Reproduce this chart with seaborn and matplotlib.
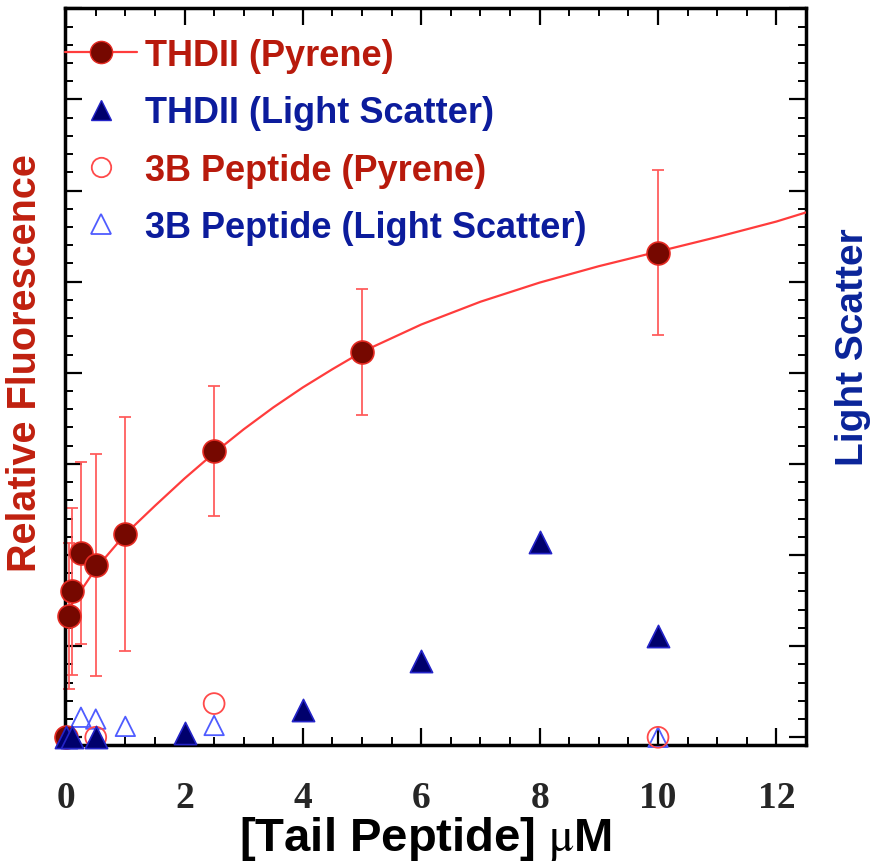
import matplotlib
matplotlib.use("Agg")
import matplotlib.pyplot as plt
from matplotlib.lines import Line2D
from matplotlib.ticker import MultipleLocator
import seaborn as sns

sns.set_theme(style="white")
plt.rcParams['font.family'] = ['Liberation Sans', 'DejaVu Sans']
plt.rcParams['mathtext.fontset'] = 'stix'

# ---- data ----
thd_pyr_x = [0, 0.05, 0.1, 0.25, 0.5, 1, 2.5, 5, 10]
thd_pyr_y = [0.0, 1.33, 1.60, 2.02, 1.89, 2.23, 3.14, 4.23, 5.32]
thd_pyr_err = [0.0, 0.80, 0.92, 1.00, 1.22, 1.28, 0.71, 0.69, 0.91]

fit_x = [0, 0.25, 0.5, 1, 1.5, 2, 2.5, 3, 3.5, 4, 4.5, 5, 6, 7, 8, 9, 10, 11, 12, 12.5]
fit_y = [1.37, 1.61, 1.85, 2.23, 2.54, 2.84, 3.12, 3.38, 3.62, 3.84, 4.04, 4.23,
         4.53, 4.78, 4.99, 5.17, 5.33, 5.49, 5.66, 5.76]

thd_ls_x = [0, 0.1, 0.5, 2, 4, 6, 8, 10]
thd_ls_y = [0.0, 0.0, 0.0, 0.05, 0.30, 0.84, 2.14, 1.11]

b3_pyr_x = [0, 0.5, 2.5, 10]
b3_pyr_y = [0.0, 0.0, 0.37, 0.0]

b3_ls_x = [0, 0.25, 0.5, 1, 2.5, 10]
b3_ls_y = [0.0, 0.22, 0.20, 0.12, 0.13, 0.0]

labels = ["THDII (Pyrene)", "THDII (Light Scatter)",
          "3B Peptide (Pyrene)", "3B Peptide (Light Scatter)"]
xticks = [0, 2, 4, 6, 8, 10, 12]

# ---- colours ----
dark_red = "#760800"
red_edge = "#e42a22"
curve_red = "#ff3c3c"
err_red = "#ff5a5a"
navy = "#00006c"
navy_edge = "#2424c8"
open_blue = "#4f5cff"
open_red = "#ff4a4a"
txt_red = "#b81a0c"
txt_blue = "#0c1c9c"

fig = plt.figure(figsize=(8.72, 8.62), dpi=100)
ax = fig.add_axes([0.0745, 0.134, 0.8498, 0.8552])

ax.errorbar(thd_pyr_x, thd_pyr_y, yerr=thd_pyr_err, fmt='none', ecolor=err_red,
            elinewidth=1.4, capsize=4, capthick=1.4, alpha=0.9, zorder=2, clip_on=False)
sns.lineplot(x=fit_x, y=fit_y, ax=ax, color=curve_red, linewidth=1.6, zorder=3)

sns.scatterplot(x=b3_ls_x, y=b3_ls_y, ax=ax, marker='^', s=14**2, facecolor='none',
                edgecolor=open_blue, linewidth=1.3, zorder=4, clip_on=False)
sns.scatterplot(x=b3_pyr_x, y=b3_pyr_y, ax=ax, marker='o', s=15**2, facecolor='none',
                edgecolor=open_red, linewidth=1.3, zorder=4, clip_on=False)
sns.scatterplot(x=thd_pyr_x, y=thd_pyr_y, ax=ax, marker='o', s=16.5**2, facecolor=dark_red,
                edgecolor=red_edge, linewidth=1.2, zorder=5, clip_on=False)
sns.scatterplot(x=thd_ls_x, y=thd_ls_y, ax=ax, marker='^', s=16**2, facecolor=navy,
                edgecolor=navy_edge, linewidth=1.2, zorder=6, clip_on=False)

ax.set_xlim(-0.02, 12.5)
ax.set_ylim(-0.09, 8.0)
ax.set_xticks(xticks)
ax.xaxis.set_minor_locator(MultipleLocator(0.5))
ax.yaxis.set_major_locator(MultipleLocator(1))
ax.yaxis.set_minor_locator(MultipleLocator(0.2))
ax.set_yticklabels([])
ax.tick_params(axis='both', which='both', direction='in', top=True, right=True,
               left=True, bottom=True, color='black')
ax.tick_params(which='major', length=12, width=1.6)
ax.tick_params(which='minor', length=6, width=1.4)
ax.tick_params(axis='x', which='major', pad=25, labelsize=27)
for lab in ax.get_xticklabels():
    lab.set_fontfamily('Liberation Serif')
    lab.set_fontweight('bold')
for sp in ax.spines.values():
    sp.set_color('black')
    sp.set_linewidth(2.5)
    sp.set_visible(True)

fig.text(0.488, 0.027, "[Tail Peptide] $\\mathrm{\\mu}$M", ha='center', va='center',
         fontsize=34, fontweight='bold', color='black')
fig.text(0.029, 0.579, "Relative Fluorescence", rotation=90, ha='center', va='center',
         fontsize=28.5, fontweight='bold', color="#c0200f")
fig.text(0.978, 0.597, "Light Scatter", rotation=90, ha='center', va='center',
         fontsize=28, fontweight='bold', color="#0a2499")

handles = [
    Line2D([0], [0], color=curve_red, lw=1.6, marker='o', markersize=16,
           markerfacecolor=dark_red, markeredgecolor=red_edge),
    Line2D([0], [0], color='none', marker='^', markersize=14,
           markerfacecolor=navy, markeredgecolor=navy_edge),
    Line2D([0], [0], color='none', marker='o', markersize=14,
           markerfacecolor='none', markeredgecolor=open_red, markeredgewidth=1.3),
    Line2D([0], [0], color='none', marker='^', markersize=14,
           markerfacecolor='none', markeredgecolor=open_blue, markeredgewidth=1.3),
]
leg = ax.legend(handles, labels, loc='upper left', bbox_to_anchor=(0.0, 0.960),
                frameon=False, fontsize=26, handlelength=2.0, handletextpad=0.22,
                labelspacing=0.62, borderaxespad=0, borderpad=0)
for t, c in zip(leg.get_texts(), [txt_red, txt_blue, txt_red, txt_blue]):
    t.set_color(c)
    t.set_fontweight('bold')

fig.savefig("out.png", dpi=100)
